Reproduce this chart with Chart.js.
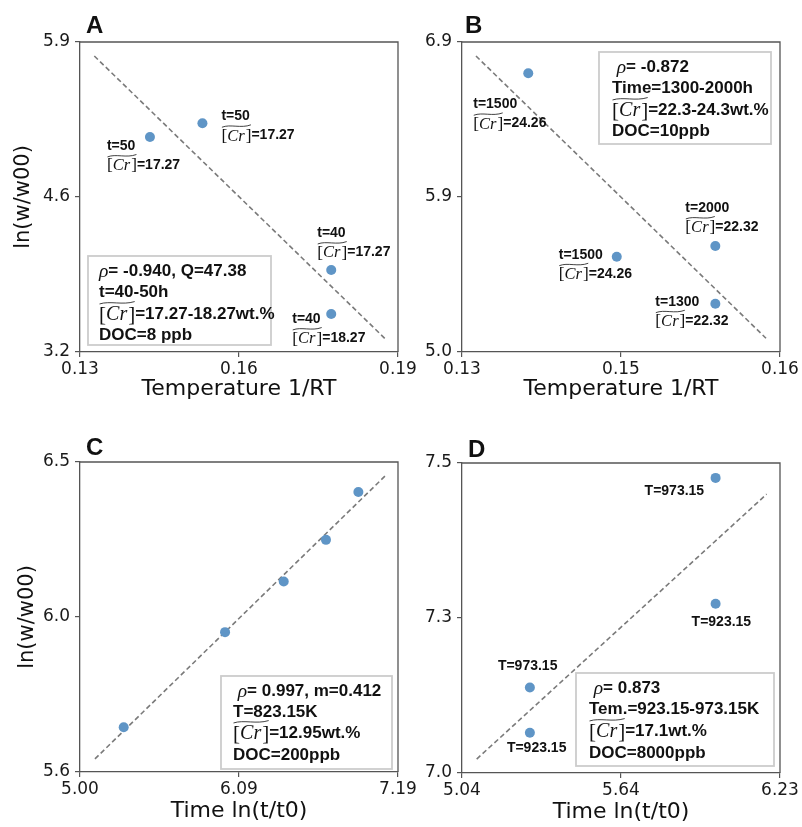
<!DOCTYPE html>
<html><head><meta charset="utf-8">
<script src="https://cdn.jsdelivr.net/npm/chart.js@4.4.0/dist/chart.umd.min.js"></script>
<style>
html,body{margin:0;padding:0;background:#fff;}
#wrap{position:relative;width:802px;height:827px;overflow:hidden;}
canvas{position:absolute;left:0;top:0;}
</style></head><body><div id="wrap">
<canvas id="cA" width="802" height="827"></canvas>
<canvas id="cB" width="802" height="827"></canvas>
<canvas id="cC" width="802" height="827"></canvas>
<canvas id="cD" width="802" height="827"></canvas>
</div>
<script>
// ---------- Panel A ----------
const xA = [0.1432, 0.1531, 0.1774, 0.1774];
const yA = [5.073, 5.192, 3.914, 3.531];
const fitXA = [0.1327, 0.1875];
const fitYA = [5.778, 3.319];
const xRangeA = [0.13, 0.19];
const yRangeA = [3.2, 5.9];
const xTicksA = ['0.13', '0.16', '0.19'];
const yTicksA = ['3.2', '4.6', '5.9'];
const pointLabelsA = [['t=50', '{Cr}=17.27'], ['t=50', '{Cr}=17.27'], ['t=40', '{Cr}=17.27'], ['t=40', '{Cr}=18.27']];
const legendA = ['{rho}= -0.940, Q=47.38', 't=40-50h', '{Cr}=17.27-18.27wt.%', 'DOC=8 ppb'];

// ---------- Panel B ----------
const xB = [0.13625, 0.1446, 0.1539, 0.1539];
const yB = [6.708, 5.584, 5.650, 5.296];
const fitXB = [0.13132, 0.15868];
const fitYB = [6.814, 5.084];
const xRangeB = [0.13, 0.16];
const yRangeB = [5.0, 6.9];
const xTicksB = ['0.13', '0.15', '0.16'];
const yTicksB = ['5.0', '5.9', '6.9'];
const pointLabelsB = [['t=1500', '{Cr}=24.26'], ['t=1500', '{Cr}=24.26'], ['t=2000', '{Cr}=22.32'], ['t=1300', '{Cr}=22.32']];
const legendB = [' {rho}= -0.872', 'Time=1300-2000h', '{Cr}=22.3-24.3wt.%', 'DOC=10ppb'];

// ---------- Panel C ----------
const xC = [5.301, 5.999, 6.403, 6.694, 6.917];
const yC = [5.730, 6.006, 6.153, 6.274, 6.413];
const fitXC = [5.103, 7.100];
const fitYC = [5.638, 6.459];
const xRangeC = [5.00, 7.19];
const yRangeC = [5.6, 6.5];
const xTicksC = ['5.00', '6.09', '7.19'];
const yTicksC = ['5.6', '6.0', '6.5'];
const pointLabelsC = [];
const legendC = [' {rho}= 0.997, m=0.412', 'T=823.15K', '{Cr}=12.95wt.%', 'DOC=200ppb'];

// ---------- Panel D ----------
const xD = [5.989, 5.989, 5.294, 5.294];
const yD = [7.476, 7.273, 7.138, 7.065];
const fitXD = [5.095, 6.180];
const fitYD = [7.0225, 7.4497];
const xRangeD = [5.04, 6.23];
const yRangeD = [7.0, 7.5];
const xTicksD = ['5.04', '5.64', '6.23'];
const yTicksD = ['7.0', '7.3', '7.5'];
const pointLabelsD = [['T=973.15'], ['T=923.15'], ['T=973.15'], ['T=923.15']];
const legendD = [' {rho}= 0.873', 'Tem.=923.15-973.15K', '{Cr}=17.1wt.%', 'DOC=8000ppb'];

const xTitleTemp = 'Temperature 1/RT';
const xTitleTime = 'Time ln(t/t0)';
const yTitle = 'ln(w/w00)';

// ---------- drawing helpers ----------
const SANS = '"Liberation Sans", Arial, sans-serif';
const SERIF = '"Liberation Serif", "DejaVu Serif", serif';

function drawCr(ctx, x, y, size) {
  const s = size * 1.18;
  ctx.font = `${s * 1.05}px ${SERIF}`;
  ctx.fillText('[', x, y + 1);
  let cx = x + ctx.measureText('[').width;
  ctx.font = `italic ${s}px ${SERIF}`;
  ctx.fillText('Cr', cx, y + 1);
  cx += ctx.measureText('Cr').width + 1;
  ctx.font = `${s * 1.05}px ${SERIF}`;
  ctx.fillText(']', cx, y + 1);
  cx += ctx.measureText(']').width;
  const w = cx - x;
  const ty = y - s * 0.56;
  ctx.save();
  ctx.lineWidth = 0.8;
  ctx.strokeStyle = ctx.fillStyle;
  ctx.beginPath();
  ctx.moveTo(x + 0.5, ty + 1.2);
  ctx.bezierCurveTo(x + w * 0.3, ty - 2.2, x + w * 0.65, ty + 2.6, x + w - 0.5, ty - 1.2);
  ctx.stroke();
  ctx.restore();
  return cx;
}

function drawRich(ctx, str, x, y, size) {
  const parts = str.split(/(\{Cr\}|\{rho\})/).filter(s => s.length);
  let cx = x;
  ctx.textBaseline = 'middle';
  ctx.textAlign = 'left';
  for (const p of parts) {
    if (p === '{Cr}') {
      cx = drawCr(ctx, cx, y, size);
    } else if (p === '{rho}') {
      ctx.font = `italic ${size * 1.15}px ${SERIF}`;
      ctx.fillText('ρ', cx, y + 1);
      cx += ctx.measureText('ρ').width;
    } else {
      ctx.font = `bold ${size}px ${SANS}`;
      ctx.fillText(p, cx, y);
      cx += ctx.measureText(p).width;
    }
  }
}

function makePanel(id, P) {
  const tickFont = { family: '"DejaVu Sans", sans-serif', size: 17 };
  const gridOpt = { drawOnChartArea: false, drawTicks: true, tickLength: 5, color: '#555', lineWidth: 1.2 };
  const borderOpt = { display: true, color: '#555', width: 1.3 };
  const overlay = {
    id: 'overlay' + id,
    afterDraw(chart) {
      const ctx = chart.ctx;
      const a = chart.chartArea;
      ctx.save();
      ctx.strokeStyle = '#555';
      ctx.lineWidth = 1.3;
      ctx.beginPath();
      ctx.moveTo(a.left, a.top);
      ctx.lineTo(a.right, a.top);
      ctx.lineTo(a.right, a.bottom);
      ctx.stroke();
      ctx.fillStyle = '#111';
      const xs = chart.scales.x, ys = chart.scales.y;
      P.pointLabels.forEach((lines, i) => {
        const px = xs.getPixelForValue(P.x[i]);
        const py = ys.getPixelForValue(P.y[i]);
        const [dx, dy] = P.labelOffsets[i];
        lines.forEach((ln, k) => drawRich(ctx, ln, px + dx, py + dy + k * 19, 14));
      });
      const b = P.legendBox;
      ctx.fillStyle = 'rgba(255,255,255,0.85)';
      ctx.fillRect(b[0], b[1], b[2] - b[0], b[3] - b[1]);
      ctx.strokeStyle = '#cccccc';
      ctx.lineWidth = 1.8;
      ctx.strokeRect(b[0], b[1], b[2] - b[0], b[3] - b[1]);
      ctx.fillStyle = '#111';
      P.legend.forEach((ln, k) => drawRich(ctx, ln, P.legendTextX, P.legendLineY[k], 17));
      ctx.font = `bold 24px ${SANS}`;
      ctx.textBaseline = 'alphabetic';
      ctx.textAlign = 'left';
      ctx.fillStyle = '#111';
      ctx.fillText(P.letter, P.letterPos[0], P.letterPos[1]);
      ctx.restore();
    }
  };
  const area = P.area;
  return new Chart(document.getElementById(id), {
    type: 'scatter',
    data: {
      datasets: [
        {
          data: P.x.map((v, i) => ({ x: v, y: P.y[i] })),
          pointRadius: 5, pointHoverRadius: 5,
          backgroundColor: '#5f95c6', borderColor: '#5f95c6', borderWidth: 0
        },
        {
          type: 'line',
          data: P.fitX.map((v, i) => ({ x: v, y: P.fitY[i] })),
          borderColor: '#7a7a7a', borderWidth: 1.6, borderDash: [5, 3],
          pointRadius: 0, fill: false, tension: 0
        }
      ]
    },
    options: {
      responsive: false,
      animation: false,
      events: [],
      layout: {
        padding: {
          left: area.l - P.yW,
          top: area.t,
          right: 802 - area.r,
          bottom: 827 - area.b - P.xH
        }
      },
      plugins: { legend: { display: false }, tooltip: { enabled: false } },
      scales: {
        x: {
          type: 'linear', min: P.xRange[0], max: P.xRange[1],
          afterBuildTicks: s => { s.ticks = [{ value: P.xRange[0] }, { value: (P.xRange[0] + P.xRange[1]) / 2 }, { value: P.xRange[1] }]; },
          afterFit: s => { s.height = P.xH; },
          ticks: { callback: (v, i) => P.xTicks[i], font: tickFont, color: '#1a1a1a', padding: 2, maxRotation: 0, autoSkip: false },
          grid: gridOpt, border: borderOpt,
          title: { display: true, text: P.xTitle, font: { family: '"DejaVu Sans", sans-serif', size: 22, lineHeight: 1 }, padding: 0, color: '#111' }
        },
        y: {
          type: 'linear', min: P.yRange[0], max: P.yRange[1],
          afterBuildTicks: s => { s.ticks = [{ value: P.yRange[0] }, { value: (P.yRange[0] + P.yRange[1]) / 2 }, { value: P.yRange[1] }]; },
          afterFit: s => { s.width = P.yW; },
          ticks: { callback: (v, i) => P.yTicks[i], font: tickFont, color: '#1a1a1a', padding: 5, autoSkip: false },
          grid: gridOpt, border: borderOpt,
          title: { display: !!P.yTitle, text: P.yTitle || '', font: { family: '"DejaVu Sans", sans-serif', size: 21, lineHeight: 1 }, padding: 0, color: '#111' }
        }
      }
    },
    plugins: [overlay]
  });
}

makePanel('cA', {
  x: xA, y: yA, fitX: fitXA, fitY: fitYA, xRange: xRangeA, yRange: yRangeA,
  xTicks: xTicksA, yTicks: yTicksA, xTitle: xTitleTemp, yTitle: yTitle,
  pointLabels: pointLabelsA, labelOffsets: [[-43, 9], [19, -7], [-14, -37], [-39, 5]],
  legend: legendA, legendBox: [88, 256, 271, 345], legendTextX: 99, legendLineY: [271, 292, 314, 335],
  letter: 'A', letterPos: [86, 33],
  area: { l: 80, r: 398, t: 42, b: 352 }, yW: 66.5, xH: 48
});
makePanel('cB', {
  x: xB, y: yB, fitX: fitXB, fitY: fitYB, xRange: xRangeB, yRange: yRangeB,
  xTicks: xTicksB, yTicks: yTicksB, xTitle: xTitleTemp, yTitle: null,
  pointLabels: pointLabelsB, labelOffsets: [[-55, 31], [-58, -2], [-30, -38], [-60, -2]],
  legend: legendB, legendBox: [599, 52, 771, 144], legendTextX: 612, legendLineY: [67, 88, 110, 131],
  letter: 'B', letterPos: [465, 33],
  area: { l: 462, r: 780, t: 42, b: 352 }, yW: 60, xH: 48
});
makePanel('cC', {
  x: xC, y: yC, fitX: fitXC, fitY: fitYC, xRange: xRangeC, yRange: yRangeC,
  xTicks: xTicksC, yTicks: yTicksC, xTitle: xTitleTime, yTitle: yTitle,
  pointLabels: pointLabelsC, labelOffsets: [],
  legend: legendC, legendBox: [221, 676, 392, 769], legendTextX: 233, legendLineY: [691, 712, 733, 755],
  letter: 'C', letterPos: [86, 455],
  area: { l: 80, r: 398, t: 462, b: 772 }, yW: 62.5, xH: 50
});
makePanel('cD', {
  x: xD, y: yD, fitX: fitXD, fitY: fitYD, xRange: xRangeD, yRange: yRangeD,
  xTicks: xTicksD, yTicks: yTicksD, xTitle: xTitleTime, yTitle: null,
  pointLabels: pointLabelsD, labelOffsets: [[-71, 13], [-24, 18], [-32, -21], [-23, 15]],
  legend: legendD, legendBox: [576, 673, 774, 766], legendTextX: 589, legendLineY: [688, 709, 731, 753],
  letter: 'D', letterPos: [468, 457],
  area: { l: 462, r: 780, t: 463, b: 773 }, yW: 60, xH: 50
});
</script>
</body></html>
